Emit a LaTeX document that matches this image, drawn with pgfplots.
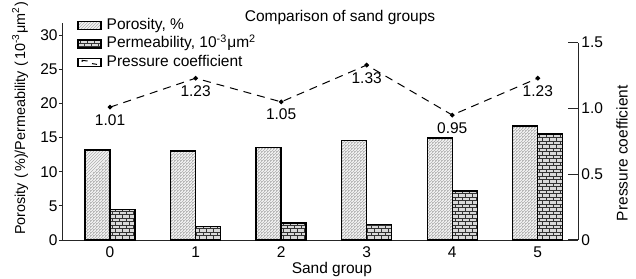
\documentclass[border=0pt]{standalone}
\usepackage{fontspec}
\setmainfont{Liberation Sans}
\usepackage{pgfplots}
\pgfplotsset{compat=1.18}
\usetikzlibrary{patterns.meta}

\tikzdeclarepattern{
  name=finehatch, type=uncolored,
  bottom left={(-0.5pt,-0.5pt)}, top right={(2pt,2pt)},
  tile size={(1.5pt,1.5pt)}, line width=0.25pt,
  code={\draw (0pt,0pt) -- (1.6pt,1.6pt);}
}
\tikzdeclarepattern{
  name=minibricks, type=uncolored,
  bottom left={(-0.3pt,-0.3pt)}, top right={(3.8pt,3.8pt)},
  tile size={(3.5pt,3.5pt)}, line width=0.45pt,
  code={
    \draw (0pt,0pt) -- (3.5pt,0pt);
    \draw (0pt,1.75pt) -- (3.5pt,1.75pt);
    \draw (0pt,0pt) -- (0pt,1.75pt);
    \draw (1.75pt,1.75pt) -- (1.75pt,3.5pt);
  }
}
\pgfplotsset{
  boxlegend/.style={legend image code/.code={\draw[##1] (0pt,-2pt) rectangle (11.5pt,2pt);}},
  linelegend/.style={legend image code/.code={
    \draw[black, line width=0.6pt, fill=white] (0pt,-2pt) rectangle (11.5pt,2pt);
    \draw[black, line width=0.5pt] (2pt,0.3pt) -- (2pt,1pt) -- (4.8pt,0.7pt) (7pt,-0.6pt) -- (9.5pt,-1pt);}},
}

\begin{document}
\begin{tikzpicture}[font=\fontsize{7.75}{9}\selectfont]
\useasboundingbox (-31.5pt,-19pt) rectangle (286.5pt,120pt);
\begin{axis}[
  scale only axis, width=257.5pt, height=108.5pt,
  xmin=-0.55, xmax=5.47, ymin=0, ymax=31.76,
  axis x line*=bottom, axis y line*=left,
  axis line style={-, line width=0.5pt, black!85},
  /pgf/number format/assume math mode=true,
  ybar=0pt, bar width=12.5pt,
  xtick={0,...,5}, ytick={0,5,...,30},
  xtick style={draw=none},
  ytick style={line width=0.5pt, black!85},
  tick align=outside, major tick length=2pt,
  xticklabel style={inner sep=0pt, yshift=-1pt},
  yticklabel style={inner sep=0.5pt},
  title={Comparison of sand groups},
  title style={at={(axis description cs:0.538,1)}, anchor=base, yshift=-5.25pt},
  xlabel={Sand group},
  xlabel style={at={(axis description cs:0.522,0)}, anchor=base, yshift=-16.5pt},
  ylabel={Porosity (\,\%)/Permeability (\,10\textsuperscript{-3}μm\textsuperscript{2})},
  ylabel style={at={(axis description cs:-0.0835,0.56)}, anchor=center, font=\fontsize{7.2}{8}\selectfont},
  legend style={draw=none, fill=none, at={(axis description cs:0.027,1)},
    anchor=north west, yshift=3.5pt, inner sep=0pt, row sep=0pt, column sep=1.5pt,
    nodes={inner sep=1pt, text height=5.6pt, text depth=1.6pt}},
  legend cell align=left,
]
\addplot[draw=black, line width=0.7pt, fill=gray!14,
  postaction={pattern=finehatch, pattern color=gray!55}, boxlegend]
  coordinates {(0,13.2) (1,13.0) (2,13.5) (3,14.6) (4,14.95) (5,16.7)};
\addlegendentry{Porosity, \%}
\addplot[draw=black, line width=0.7pt, fill=gray!30,
  postaction={pattern=minibricks, pattern color=black!80}, boxlegend]
  coordinates {(0,4.5) (1,2.0) (2,2.5) (3,2.3) (4,7.2) (5,15.5)};
\addlegendentry{Permeability, 10\textsuperscript{-3}μm\textsuperscript{2}}
\addlegendimage{linelegend}
\addlegendentry{Pressure coefficient}
\end{axis}
\begin{axis}[
  scale only axis, width=257.5pt, height=98.65pt,
  xmin=-0.55, xmax=5.47, ymin=0, ymax=1.5,
  axis x line=none, axis y line*=right,
  axis line style={-, line width=0.5pt, black!85},
  /pgf/number format/assume math mode=true,
  ytick={0,0.5,1,1.5}, yticklabels={0,0.5,1.0,1.5},
  ytick style={line width=0.5pt, black!85},
  tick align=inside, major tick length=5pt,
  yticklabel style={inner sep=0pt, xshift=1.5pt},
  ylabel={Pressure coefficient},
  ylabel style={at={(axis description cs:1.0854,0.44)}, anchor=center},
]
\addplot[black, line width=0.5pt, dash pattern=on 4pt off 3pt,
  mark=*, mark size=0.9pt, mark options={solid},
  nodes near coords, nodes near coords align=below,
  /pgf/number format/.cd, fixed, fixed zerofill, precision=2, /tikz/.cd,
  every node near coord/.append style={anchor=north, inner sep=0.5pt, yshift=-2.5pt, xshift=1.5pt, font=\fontsize{7.75}{9}\selectfont}]
  coordinates {(0,1.01) (1,1.23) (2,1.05) (3,1.33) (4,0.95) (5,1.23)};
\end{axis}
\end{tikzpicture}
\end{document}
